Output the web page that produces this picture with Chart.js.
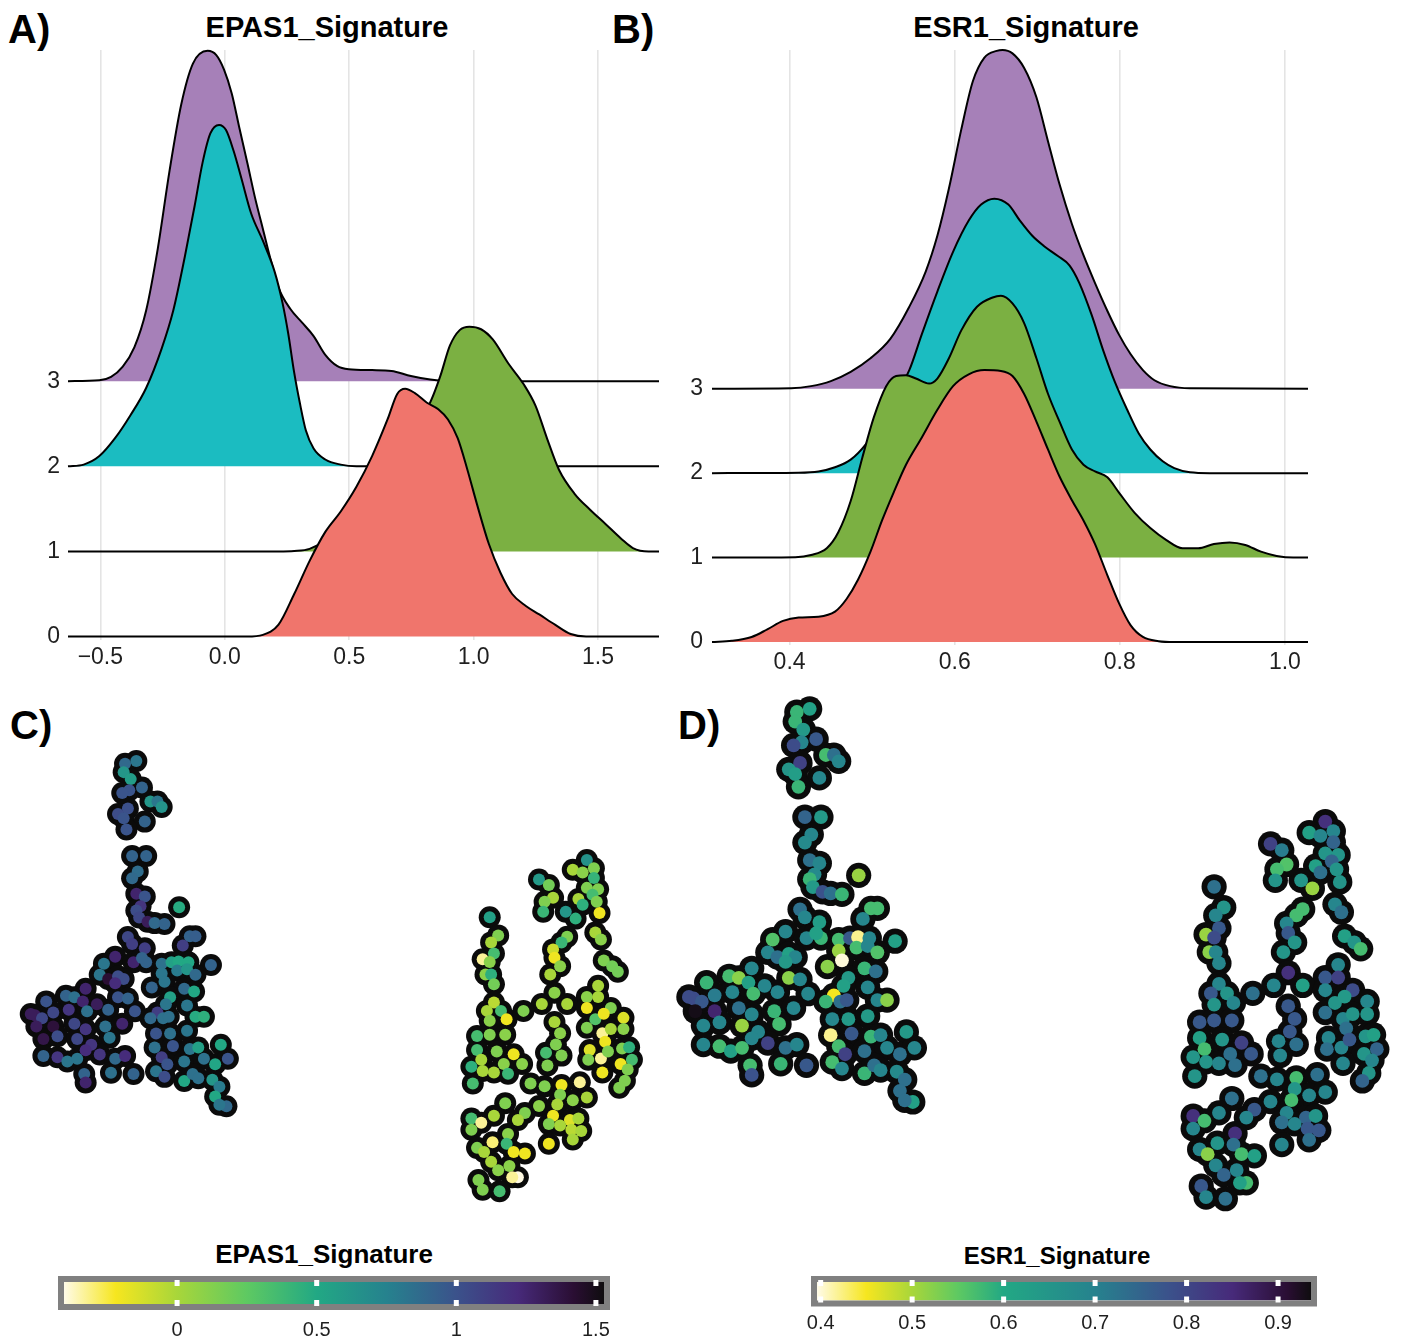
<!DOCTYPE html>
<html>
<head>
<meta charset="utf-8">
<title>EPAS1 / ESR1 signature scores</title>
<script src="https://cdn.jsdelivr.net/npm/chart.js@4.4.1/dist/chart.umd.min.js"></script>
<style>
  html, body { margin: 0; padding: 0; background: #ffffff; }
  body { width: 1412px; height: 1337px; position: relative; overflow: hidden;
         font-family: 'Liberation Sans', Arial, Helvetica, sans-serif; }
  canvas { position: absolute; }
  .tag { position: absolute; font-weight: bold; font-size: 40px; line-height: 40px; color: #000; }
  .ttl { position: absolute; font-weight: bold; color: #000; line-height: 1; white-space: nowrap;
         transform: translateX(-50%); }
</style>
</head>
<body>

<div class="tag" style="left:8px; top:9px;">A)</div>
<div class="tag" style="left:612px; top:9px;">B)</div>
<div class="tag" style="left:10px; top:705px;">C)</div>
<div class="tag" style="left:678px; top:705px;">D)</div>

<div class="ttl" style="left:327px; top:13px; font-size:29px;">EPAS1_Signature</div>
<div class="ttl" style="left:1026px; top:13px; font-size:29px;">ESR1_Signature</div>
<div class="ttl" style="left:324px; top:1241px; font-size:26px;">EPAS1_Signature</div>
<div class="ttl" style="left:1057px; top:1244px; font-size:24px;">ESR1_Signature</div>

<canvas id="ridgeEpas" width="690" height="685" style="left:0px; top:0px;"></canvas>
<canvas id="ridgeEsr" width="732" height="690" style="left:680px; top:0px;"></canvas>
<canvas id="umapEpas" width="680" height="560" style="left:0px; top:680px;"></canvas>
<canvas id="umapEsr" width="757" height="560" style="left:655px; top:680px;"></canvas>
<canvas id="barEpas" width="580" height="75" style="left:44px; top:1262px;"></canvas>
<canvas id="barEsr" width="534" height="75" style="left:797px; top:1262px;"></canvas>

<script>
// ---------------------------------------------------------------
// Cluster levels shown on the ridgeline y axis
const groupLevels = [0, 1, 2, 3];

// EPAS1_Signature density curves (x = score, h = ridge height above the baseline)
const epasX0 = [-0.63, 0.09, 0.153, 0.216, 0.279, 0.341, 0.404, 0.466, 0.529, 0.592, 0.654, 0.693, 0.725, 0.764, 0.811, 0.858, 0.897, 0.936, 0.975, 1.014, 1.061, 1.108, 1.155, 1.21, 1.264, 1.327, 1.39, 1.452, 1.745];
const epasH0 = [0, 0, 0.02, 0.14, 0.5, 0.89, 1.23, 1.47, 1.76, 2.12, 2.55, 2.85, 2.91, 2.86, 2.75, 2.67, 2.55, 2.33, 1.96, 1.55, 1.09, 0.75, 0.5, 0.36, 0.26, 0.14, 0.03, 0, 0];
const epasX1 = [-0.63, 0.216, 0.279, 0.341, 0.404, 0.466, 0.529, 0.592, 0.67, 0.748, 0.818, 0.865, 0.905, 0.944, 0.983, 1.03, 1.077, 1.139, 1.202, 1.249, 1.296, 1.343, 1.405, 1.468, 1.531, 1.593, 1.64, 1.703, 1.745];
const epasH1 = [0, 0, 0.005, 0.03, 0.13, 0.32, 0.59, 0.91, 1.28, 1.55, 1.71, 2.05, 2.42, 2.6, 2.64, 2.61, 2.49, 2.21, 1.96, 1.71, 1.32, 0.96, 0.68, 0.49, 0.32, 0.15, 0.04, 0, 0];
const epasX2 = [-0.63, -0.567, -0.504, -0.441, -0.379, -0.316, -0.254, -0.207, -0.16, -0.121, -0.089, -0.058, -0.023, 0.005, 0.036, 0.067, 0.106, 0.153, 0.2, 0.232, 0.255, 0.279, 0.302, 0.326, 0.357, 0.404, 0.466, 0.529, 1.745];
const epasH2 = [0, 0.02, 0.12, 0.33, 0.6, 0.92, 1.38, 1.83, 2.47, 3.06, 3.57, 3.91, 4.01, 3.95, 3.7, 3.38, 2.97, 2.65, 2.29, 1.92, 1.56, 1.1, 0.74, 0.42, 0.21, 0.08, 0.02, 0, 0];
const epasX3 = [-0.63, -0.504, -0.457, -0.41, -0.363, -0.316, -0.269, -0.222, -0.175, -0.128, -0.069, -0.034, -0.003, 0.028, 0.059, 0.091, 0.122, 0.153, 0.185, 0.216, 0.263, 0.31, 0.357, 0.404, 0.451, 0.498, 0.592, 0.67, 0.748, 0.826, 0.905, 1.745];
const epasH3 = [0, 0.01, 0.05, 0.17, 0.4, 0.83, 1.56, 2.47, 3.25, 3.73, 3.88, 3.83, 3.66, 3.38, 2.97, 2.56, 2.15, 1.79, 1.42, 1.1, 0.85, 0.69, 0.53, 0.31, 0.18, 0.14, 0.13, 0.12, 0.06, 0.02, 0, 0];

// ESR1_Signature density curves
const esrX0 = [0.306, 0.33, 0.354, 0.373, 0.392, 0.411, 0.435, 0.455, 0.469, 0.483, 0.498, 0.512, 0.526, 0.541, 0.56, 0.579, 0.598, 0.617, 0.636, 0.656, 0.67, 0.684, 0.699, 0.713, 0.727, 0.742, 0.756, 0.77, 0.785, 0.799, 0.813, 0.828, 0.847, 0.866, 1.028];
const esrH0 = [0, 0.014, 0.06, 0.15, 0.25, 0.29, 0.3, 0.36, 0.51, 0.74, 1.07, 1.44, 1.77, 2.1, 2.42, 2.75, 3.03, 3.17, 3.22, 3.21, 3.15, 2.94, 2.61, 2.28, 1.96, 1.68, 1.44, 1.16, 0.79, 0.46, 0.2, 0.06, 0.01, 0, 0];
const esrX1 = [0.306, 0.407, 0.426, 0.445, 0.459, 0.474, 0.488, 0.502, 0.517, 0.529, 0.541, 0.553, 0.569, 0.579, 0.593, 0.608, 0.627, 0.646, 0.656, 0.67, 0.684, 0.699, 0.713, 0.727, 0.742, 0.756, 0.77, 0.785, 0.799, 0.818, 0.837, 0.856, 0.876, 0.895, 0.914, 0.933, 0.952, 0.971, 0.99, 1.01, 1.028];
const esrH1 = [0, 0.005, 0.03, 0.11, 0.3, 0.67, 1.18, 1.66, 2.03, 2.15, 2.16, 2.12, 2.06, 2.12, 2.36, 2.69, 2.97, 3.08, 3.1, 3.01, 2.78, 2.36, 1.94, 1.61, 1.28, 1.1, 1.02, 0.95, 0.77, 0.53, 0.35, 0.21, 0.11, 0.11, 0.16, 0.18, 0.15, 0.07, 0.02, 0, 0];
const esrX2 = [0.306, 0.411, 0.435, 0.455, 0.474, 0.493, 0.507, 0.526, 0.545, 0.56, 0.579, 0.598, 0.617, 0.632, 0.648, 0.665, 0.679, 0.694, 0.708, 0.725, 0.739, 0.751, 0.766, 0.78, 0.794, 0.809, 0.823, 0.837, 0.852, 0.866, 0.885, 0.909, 1.028];
const esrH2 = [0, 0.005, 0.02, 0.07, 0.16, 0.35, 0.56, 0.89, 1.22, 1.64, 2.15, 2.62, 2.99, 3.18, 3.25, 3.18, 2.99, 2.81, 2.69, 2.57, 2.46, 2.25, 1.87, 1.45, 1.08, 0.75, 0.47, 0.28, 0.14, 0.06, 0.01, 0, 0];
const esrX3 = [0.306, 0.402, 0.426, 0.45, 0.474, 0.498, 0.522, 0.545, 0.565, 0.579, 0.593, 0.608, 0.622, 0.636, 0.651, 0.658, 0.67, 0.684, 0.699, 0.713, 0.727, 0.742, 0.756, 0.77, 0.785, 0.799, 0.813, 0.828, 0.842, 0.861, 0.885, 1.028];
const esrH3 = [0, 0.005, 0.03, 0.09, 0.2, 0.36, 0.59, 0.97, 1.39, 1.81, 2.37, 3.07, 3.64, 3.92, 4.0, 4.01, 3.97, 3.8, 3.45, 2.93, 2.42, 1.95, 1.58, 1.25, 0.92, 0.64, 0.41, 0.22, 0.1, 0.03, 0.005, 0];

// Axis tick values
const epasTicks = [-0.5, 0, 0.5, 1, 1.5];
const esrTicks = [0.4, 0.6, 0.8, 1.0];
const epasBarTicks = [0, 0.5, 1, 1.5];
const esrBarTicks = [0.4, 0.5, 0.6, 0.7, 0.8, 0.9];
// Colour-scale limits (range of the scores)
const epasLimits = [-0.405, 1.529];
const esrLimits = [0.396, 0.936];

// Cell embedding (UMAP_1, UMAP_2): left population, then right population
const umap1 = [
  -5.80,-6.20,-6.25,-6.00,-5.60,-6.05,-6.30,-5.30,-5.05,-4.90,
  -6.10,-6.45,-6.25,-5.50,-6.15,-5.95,-5.45,-5.75,-5.95,-5.80,
  -5.50,-5.65,-5.80,-5.70,-5.40,-5.15,-4.80,-4.28,-6.10,-5.95,
  -5.50,-3.90,-3.70,-4.15,-6.55,-6.95,-5.90,-5.45,-5.60,-4.90,
  -4.55,-4.30,-3.95,-3.15,-4.90,-4.35,-4.00,-3.70,-4.80,-5.25,
  -7.10,-6.80,-6.45,-6.25,-6.55,-4.10,-3.75,-4.60,-7.60,-8.30,
  -8.00,-7.70,-9.00,-7.20,-6.45,-6.10,-8.20,-7.55,-6.80,-5.85,
  -4.75,-4.00,-5.05,-5.30,-4.85,-4.65,-3.70,-3.40,-9.40,-9.15,
  -8.75,-9.35,-8.75,-8.00,-7.60,-6.90,-6.30,-9.10,-8.60,-7.90,
  -6.75,-5.10,-4.60,-4.00,-7.40,-5.15,-4.50,-3.90,-3.60,-2.80,
  -9.10,-8.60,-8.25,-7.90,-7.60,-7.10,-6.55,-6.20,-4.90,-4.70,
  -4.10,-3.40,-3.00,-2.55,-7.65,-6.70,-5.90,-5.10,-4.80,-4.10,
  -3.80,-3.60,-3.10,-7.60,-2.85,-3.00,-2.60,-2.85,-9.55,
  10.20,9.70,10.05,10.45,10.45,10.20,10.60,10.40,9.90,10.05,
  10.55,10.65,9.45,9.80,8.50,8.85,9.00,8.70,8.65,10.50,
  10.70,10.80,11.10,11.30,10.60,10.20,10.60,11.05,9.50,9.30,
  9.00,9.05,9.25,8.90,9.05,8.60,9.50,9.05,9.25,9.10,
  8.75,9.30,8.80,6.75,7.05,6.80,6.90,6.50,6.75,6.60,
  6.80,6.90,6.90,6.65,7.15,6.75,7.35,7.95,6.30,6.75,
  7.30,6.30,7.00,7.60,6.45,6.10,6.50,7.25,7.90,6.90,
  7.40,6.15,10.20,10.50,10.80,11.50,10.20,10.75,11.05,11.50,
  10.85,10.30,10.70,10.25,10.95,11.45,11.70,11.80,11.40,11.65,
  10.75,11.55,11.35,8.20,8.70,9.30,9.95,9.25,9.70,10.20,
  8.50,9.15,8.00,7.75,9.00,9.60,9.90,8.85,9.25,9.65,
  10.00,7.30,6.90,6.10,6.45,6.10,7.40,6.85,6.30,6.55,
  7.35,7.60,8.00,6.80,7.05,7.45,7.75,7.55,6.35,6.50,
  7.10,8.85,9.70
];
const umap2 = [
  6.55,6.45,6.15,5.90,5.60,5.50,5.40,5.10,5.10,4.90,
  4.85,4.65,4.50,4.38,4.10,3.15,3.15,2.60,2.35,1.80,
  1.70,1.35,1.20,0.95,0.80,0.75,0.72,1.32,0.25,0.00,
  -0.15,0.28,0.28,-0.05,-0.45,-0.70,-0.65,-0.65,-0.50,-0.70,
  -0.65,-0.62,-0.65,-0.75,-1.05,-0.95,-0.90,-1.10,-1.35,-1.55,
  -1.10,-1.25,-1.15,-1.25,-1.40,-1.60,-1.70,-1.90,-1.60,-1.85,
  -1.90,-2.05,-2.05,-2.15,-1.90,-1.95,-2.35,-2.40,-2.35,-2.40,
  -2.15,-2.20,-2.45,-2.65,-2.65,-2.60,-2.60,-2.60,-2.55,-2.65,
  -2.45,-2.95,-2.95,-2.85,-3.05,-2.95,-2.85,-3.40,-3.30,-3.40,
  -3.35,-3.20,-3.20,-3.10,-3.60,-3.70,-3.65,-3.75,-3.70,-3.60,
  -4.00,-4.05,-4.20,-4.10,-3.80,-3.95,-4.10,-4.00,-4.05,-4.30,
  -4.20,-4.10,-4.30,-4.10,-4.65,-4.60,-4.65,-4.55,-4.75,-4.90,
  -4.65,-4.80,-4.85,-4.95,-5.10,-5.45,-5.80,-5.75,-2.50,
  3.01,2.66,2.56,2.71,2.36,2.01,1.96,1.76,1.61,1.41,
  1.51,1.11,1.16,0.91,2.31,2.11,1.66,1.51,1.16,0.41,
  0.16,-0.59,-0.79,-0.99,-1.49,-1.89,-1.89,-2.29,0.26,0.06,
  -0.19,-0.49,-0.79,-1.09,-1.74,-2.14,-2.14,-2.79,-3.19,-3.59,
  -3.89,-3.99,-4.34,0.96,0.31,0.06,-0.34,-0.54,-0.64,-1.09,
  -1.09,-1.44,-2.09,-2.39,-2.39,-2.74,-2.69,-2.39,-3.29,-3.24,
  -3.24,-3.79,-3.84,-3.94,-4.14,-4.39,-4.54,-4.29,-4.29,-4.59,
  -4.64,-4.99,-2.29,-2.69,-2.49,-2.64,-2.99,-3.19,-3.04,-3.04,
  -3.49,-3.79,-4.09,-4.14,-3.84,-3.74,-3.69,-4.14,-4.29,-4.49,
  -4.59,-4.89,-5.14,-4.99,-5.09,-5.04,-4.94,-5.39,-5.59,-5.49,
  -5.79,-5.74,-6.04,-6.29,-6.14,-6.29,-6.24,-6.44,-6.49,-6.64,
  -6.69,-5.69,-6.14,-6.24,-6.39,-6.64,-6.79,-7.09,-7.29,-7.44,
  -7.14,-7.44,-7.49,-7.79,-8.09,-7.94,-8.34,-8.34,-8.44,-8.79,
  -8.84,-7.14,-6.99
];
// Per-cell signature scores
const epas1Score = [
  0.81,0.88,0.62,0.58,0.91,0.99,0.99,0.62,0.81,0.64,
  1.01,1.03,0.99,0.91,0.99,0.91,0.91,0.86,0.88,1.26,
  0.99,1.16,1.03,1.06,1.31,0.88,0.91,0.48,1.06,1.11,
  1.11,0.91,0.94,1.11,1.26,0.81,1.26,0.91,0.91,0.84,
  0.55,0.50,0.50,0.91,0.81,0.78,0.62,0.88,0.81,0.91,
  0.81,1.42,1.03,1.03,1.21,0.88,0.50,0.55,1.26,0.91,
  0.84,1.26,0.99,1.31,0.99,0.91,1.16,0.84,0.91,0.99,
  0.81,0.81,1.11,0.88,0.84,0.84,0.48,0.45,1.31,1.06,
  1.06,1.31,1.40,1.06,1.16,0.84,1.26,1.36,1.03,1.06,
  0.81,0.99,0.84,0.81,1.16,0.84,0.99,0.81,0.55,0.50,
  0.91,1.16,0.81,0.81,1.21,1.16,0.88,1.21,1.11,0.99,
  0.81,0.84,0.52,0.99,0.91,0.84,0.91,0.81,1.03,0.50,
  0.84,0.84,0.62,1.26,0.78,0.50,0.88,0.81,1.31,
  0.65,0.00,0.10,0.14,0.42,0.14,0.14,0.35,0.00,0.45,
  0.14,-0.20,0.62,0.45,0.60,0.18,0.00,0.14,0.40,0.00,
  0.10,0.14,0.18,0.18,0.00,0.10,0.00,0.14,0.14,0.40,
  -0.10,-0.20,0.10,0.00,0.10,0.00,0.00,0.00,0.10,0.14,
  0.35,0.14,0.14,0.55,0.14,0.00,0.35,-0.33,0.10,0.10,
  0.45,0.18,-0.05,0.00,0.35,0.10,-0.20,0.14,0.35,0.14,
  0.10,0.35,0.14,-0.20,0.00,0.45,0.00,0.10,0.10,0.00,
  0.40,0.35,-0.20,0.30,-0.20,-0.15,0.14,-0.33,0.00,0.10,
  -0.20,-0.15,-0.33,0.14,0.14,0.14,0.45,0.35,-0.20,0.14,
  -0.20,0.14,0.14,0.14,0.14,-0.20,-0.33,0.14,0.10,0.00,
  0.10,0.00,0.14,0.00,-0.20,-0.15,0.00,0.14,0.00,-0.05,
  0.00,0.14,0.00,0.35,-0.33,0.14,0.10,-0.30,0.14,0.00,
  0.40,-0.20,-0.20,0.00,0.10,0.10,-0.40,-0.33,0.14,0.14,
  0.35,-0.20,0.00
];
const esr1Score = [
  0.62,0.58,0.58,0.64,0.77,0.69,0.79,0.57,0.73,0.69,
  0.81,0.65,0.63,0.69,0.58,0.75,0.64,0.69,0.68,0.73,
  0.69,0.68,0.58,0.64,0.78,0.73,0.58,0.51,0.73,0.69,
  0.63,0.57,0.57,0.69,0.69,0.56,0.69,0.58,0.62,0.57,
  0.77,0.42,0.69,0.62,0.51,0.57,0.69,0.56,0.40,0.52,
  0.69,0.73,0.62,0.69,0.64,0.58,0.73,0.64,0.69,0.57,
  0.52,0.62,0.58,0.69,0.52,0.69,0.69,0.57,0.69,0.69,
  0.62,0.69,0.45,0.58,0.73,0.77,0.69,0.52,0.79,0.77,
  0.71,0.93,0.86,0.73,0.69,0.58,0.69,0.69,0.69,0.51,
  0.57,0.69,0.64,0.64,0.69,0.42,0.77,0.58,0.69,0.64,
  0.69,0.57,0.62,0.57,0.69,0.81,0.73,0.69,0.57,0.81,
  0.73,0.69,0.73,0.69,0.57,0.58,0.77,0.57,0.69,0.58,
  0.73,0.69,0.68,0.78,0.73,0.73,0.62,0.73,0.79,
  0.84,0.62,0.69,0.69,0.75,0.65,0.65,0.75,0.62,0.73,
  0.65,0.65,0.65,0.51,0.81,0.71,0.56,0.57,0.65,0.69,
  0.73,0.62,0.65,0.57,0.69,0.77,0.81,0.79,0.57,0.57,
  0.69,0.77,0.65,0.65,0.84,0.69,0.62,0.77,0.77,0.77,
  0.69,0.73,0.69,0.73,0.65,0.69,0.77,0.51,0.79,0.52,
  0.69,0.69,0.69,0.77,0.65,0.65,0.69,0.73,0.77,0.77,
  0.77,0.62,0.65,0.81,0.57,0.65,0.65,0.73,0.77,0.69,
  0.73,0.65,0.69,0.65,0.64,0.69,0.73,0.69,0.65,0.65,
  0.73,0.69,0.69,0.73,0.77,0.65,0.62,0.75,0.65,0.69,
  0.69,0.65,0.75,0.73,0.69,0.57,0.73,0.65,0.69,0.69,
  0.69,0.57,0.77,0.69,0.69,0.75,0.65,0.73,0.69,0.77,
  0.77,0.73,0.69,0.84,0.57,0.69,0.84,0.65,0.69,0.52,
  0.73,0.57,0.62,0.69,0.75,0.69,0.57,0.62,0.77,0.69,
  0.73,0.69,0.73
];

// ---------------------------------------------------------------
Chart.defaults.font.family = "'Liberation Sans', Arial, Helvetica, sans-serif";
Chart.defaults.color = '#1f1f1f';

// Ridge fills for clusters 0..3
const ridgeFill = ['#f0756c', '#7bb042', '#1bbcc1', '#a680b8'];

// Colour ramp: cream -> yellow -> green -> teal -> blue -> purple -> black,
// anchored at score values for each signature
const rampColours = ['#fffbe8', '#f6e61f', '#a8d63a', '#5ec962', '#22a884',
                     '#26828e', '#3b528b', '#472a7a', '#2a0e33', '#0f0d0f'];
const epasRampAt = [-0.405, -0.22, 0.0, 0.25, 0.5, 0.75, 1.0, 1.22, 1.42, 1.529];
const esrRampAt  = [0.396, 0.45, 0.5, 0.55, 0.6, 0.7, 0.78, 0.85, 0.91, 0.936];

function hexRgb(h) { return [1, 3, 5].map(i => parseInt(h.slice(i, i + 2), 16)); }
function rampColor(v, at) {
  if (v <= at[0]) return rampColours[0];
  for (let i = 1; i < at.length; i++) {
    if (v <= at[i]) {
      const t = (v - at[i - 1]) / (at[i] - at[i - 1]);
      const a = hexRgb(rampColours[i - 1]), b = hexRgb(rampColours[i]);
      return 'rgb(' + a.map((c, k) => Math.round(c + (b[k] - c) * t)).join(',') + ')';
    }
  }
  return rampColours[rampColours.length - 1];
}

const fixedTicks = vals => scale => { scale.ticks = vals.map(v => ({ value: v })); };
const signedFixed1 = v => (v < 0 ? '\u2212' : '') + Math.abs(v).toFixed(1);

function ridgeChart(id, xs, hs, cfg) {
  const datasets = groupLevels.map((g, k) => ({
    label: 'Cluster ' + g,
    data: xs[k].map((x, i) => ({ x, y: g + hs[k][i] })),
    backgroundColor: ridgeFill[k],
    borderColor: '#000000',
    borderWidth: 2,
    fill: { value: g },
    pointRadius: 0,
    cubicInterpolationMode: 'monotone',
    clip: false
  }));
  return new Chart(document.getElementById(id), {
    type: 'line',
    data: { datasets },
    options: {
      animation: false, responsive: false, events: [],
      layout: { padding: { top: 50, right: cfg.padRight, left: 0, bottom: 0 } },
      plugins: { legend: { display: false }, tooltip: { enabled: false } },
      scales: {
        x: {
          type: 'linear', min: cfg.xMin, max: cfg.xMax,
          afterBuildTicks: fixedTicks(cfg.ticks),
          afterFit: s => { s.height = cfg.axisH; },
          grid: { color: '#e4e4e4', lineWidth: 1.6, drawTicks: false },
          border: { display: false },
          ticks: { callback: signedFixed1, font: { size: 23 }, color: '#1f1f1f', padding: 4,
                   maxRotation: 0, autoSkip: false }
        },
        y: {
          type: 'linear', min: cfg.yMin, max: cfg.yMax,
          afterBuildTicks: fixedTicks(groupLevels),
          afterFit: s => { s.width = cfg.axisW; },
          grid: { display: false, drawTicks: false },
          border: { display: false },
          ticks: { callback: v => String(v), font: { size: 23 }, color: '#1f1f1f', padding: cfg.yPad }
        }
      }
    }
  });
}

ridgeChart('ridgeEpas', [epasX0, epasX1, epasX2, epasX3], [epasH0, epasH1, epasH2, epasH3],
  { xMin: -0.63, xMax: 1.745, yMin: -0.04, yMax: 6.89, ticks: epasTicks,
    padRight: 31, axisH: 45, axisW: 68, yPad: 8 });
ridgeChart('ridgeEsr', [esrX0, esrX1, esrX2, esrX3], [esrH0, esrH1, esrH2, esrH3],
  { xMin: 0.306, xMax: 1.028, yMin: -0.035, yMax: 7.01, ticks: esrTicks,
    padRight: 104, axisH: 45, axisW: 32, yPad: 9 });

// Embedding panels: black halo layer under the coloured cells
function umapChart(id, scores, rampAt, dotR, haloR, xr, yr) {
  const pts = umap1.map((x, i) => ({ x, y: umap2[i] }));
  return new Chart(document.getElementById(id), {
    type: 'scatter',
    data: { datasets: [
      { data: pts, pointRadius: dotR, pointBorderWidth: 0,
        pointBackgroundColor: scores.map(v => rampColor(v, rampAt)), clip: false },
      { data: pts, pointRadius: haloR, pointBorderWidth: 0,
        pointBackgroundColor: '#0b0b0b', clip: false }
    ] },
    options: {
      animation: false, responsive: false, events: [],
      layout: { padding: 0 },
      plugins: { legend: { display: false }, tooltip: { enabled: false } },
      scales: {
        x: { type: 'linear', display: false, min: xr[0], max: xr[1] },
        y: { type: 'linear', display: false, min: yr[0], max: yr[1] }
      }
    }
  });
}
umapChart('umapEpas', epas1Score, epasRampAt, 6, 11, [-10.251, 13.117], [-10.192, 9.052]);
umapChart('umapEsr', esr1Score, esrRampAt, 6.9, 12.6, [-10.21, 12.50], [-9.74, 7.06]);

// Colour bar: grey frame and white tick marks
const colorbarFrame = {
  id: 'colorbarFrame',
  afterDatasetsDraw(chart) {
    const bar = chart.getDatasetMeta(0).data[0];
    if (!bar) return;
    const p = bar.getProps(['x', 'y', 'base', 'height'], true);
    const left = Math.min(p.x, p.base), right = Math.max(p.x, p.base);
    const top = p.y - p.height / 2, bottom = p.y + p.height / 2;
    const ctx = chart.ctx;
    ctx.save();
    ctx.strokeStyle = '#808080';
    ctx.lineWidth = 6;
    ctx.strokeRect(left - 3, top - 3, right - left + 6, bottom - top + 6);
    ctx.fillStyle = '#ffffff';
    chart.scales.x.ticks.forEach(t => {
      const px = chart.scales.x.getPixelForValue(t.value);
      ctx.fillRect(px - 2.5, top - 2, 5, 6);
      ctx.fillRect(px - 2.5, bottom - 4, 5, 6);
    });
    ctx.restore();
  }
};

function colorbarChart(id, limits, rampAt, ticks, fmt, padTop, axisH, tickPad) {
  const span = limits[1] - limits[0];
  return new Chart(document.getElementById(id), {
    type: 'bar',
    data: { labels: [''], datasets: [{
      data: [limits],
      backgroundColor: c => {
        const a = c.chart.chartArea;
        if (!a) return '#cccccc';
        const g = c.chart.ctx.createLinearGradient(a.left, 0, a.right, 0);
        rampAt.forEach((v, i) => g.addColorStop(Math.max(0, Math.min(1, (v - limits[0]) / span)), rampColours[i]));
        return g;
      },
      borderWidth: 0, barPercentage: 1, categoryPercentage: 1
    }] },
    options: {
      indexAxis: 'y', animation: false, responsive: false, events: [],
      layout: { padding: { top: padTop, left: 20, right: 20, bottom: 0 } },
      plugins: { legend: { display: false }, tooltip: { enabled: false } },
      scales: {
        x: {
          type: 'linear', min: limits[0], max: limits[1],
          afterBuildTicks: fixedTicks(ticks),
          afterFit: s => { s.height = axisH; s.paddingLeft = 0; s.paddingRight = 0; },
          grid: { display: false, drawTicks: false }, border: { display: false },
          ticks: { callback: fmt, font: { size: 20 }, color: '#1f1f1f', padding: tickPad,
                   maxRotation: 0, autoSkip: false }
        },
        y: { display: false }
      }
    },
    plugins: [colorbarFrame]
  });
}
colorbarChart('barEpas', epasLimits, epasRampAt, epasBarTicks, v => String(v), 20, 33, 14);
colorbarChart('barEsr', esrLimits, esrRampAt, esrBarTicks, v => v.toFixed(1), 20, 36.5, 10.5);
</script>
</body>
</html>
